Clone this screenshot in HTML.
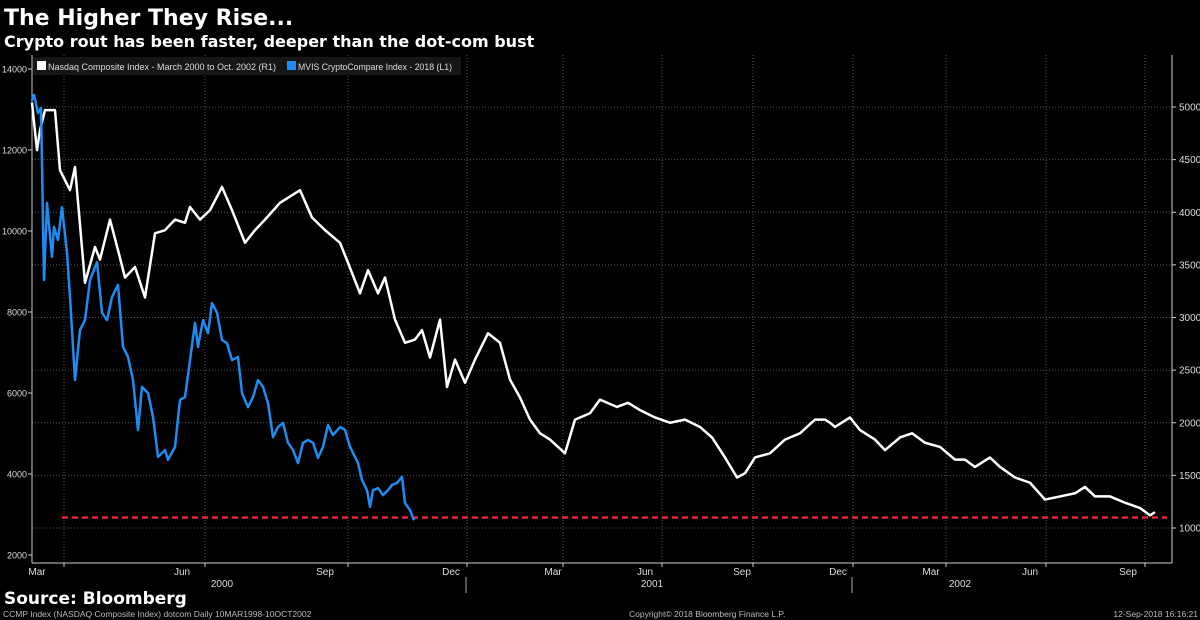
<!DOCTYPE html>
<html><head><meta charset="utf-8"><style>
body{margin:0;background:#000;width:1200px;height:620px;overflow:hidden;font-family:"Liberation Sans","DejaVu Sans",sans-serif;}
svg{display:block}
</style></head><body>
<svg id="chart" width="1200" height="620" xmlns="http://www.w3.org/2000/svg">
<text x="4" y="25" fill="#fff" font-family="DejaVu Sans" font-weight="bold" font-size="22">The Higher They Rise...</text>
<text x="4" y="47" fill="#fff" font-family="DejaVu Sans" font-weight="bold" font-size="16">Crypto rout has been faster, deeper than the dot-com bust</text>
<g id="grid"></g>
<g id="axes"></g>
<g id="series"></g>
<g>
<rect x="33" y="57" width="428" height="18" fill="#161616"/>
<rect x="37" y="61" width="9" height="9" fill="#fff"/>
<text x="48" y="70" fill="#ddd" font-size="9.5" textLength="228" lengthAdjust="spacingAndGlyphs">Nasdaq Composite Index - March 2000 to Oct. 2002 (R1)</text>
<rect x="287" y="61" width="9" height="9" fill="#1e8cf0"/>
<text x="298" y="70" fill="#ddd" font-size="9.5" textLength="154" lengthAdjust="spacingAndGlyphs">MVIS CryptoCompare Index - 2018 (L1)</text>
</g>
<text x="4" y="604" fill="#fff" font-family="DejaVu Sans" font-weight="bold" font-size="17">Source: Bloomberg</text>
<text x="3" y="617" fill="#bbb" font-size="8.5">CCMP Index (NASDAQ Composite Index) dotcom  Daily 10MAR1998-10OCT2002</text>
<text x="629" y="617" fill="#bbb" font-size="8.5">Copyright© 2018 Bloomberg Finance L.P.</text>
<text x="1198" y="617" fill="#bbb" font-size="8.5" text-anchor="end">12-Sep-2018 16:16:21</text>
</svg>
<script>
const nasdaqT=[0,5,8,13,23,28,38,43,53,63,68,78,86,93,103,113,123,133,143,153,158,168,178,190,200,213,223,233,248,268,280,293,308,316,328,336,346,353,363,373,383,390,398,408,415,423,433,443,456,468,478,488,498,508,518,533,543,558,568,585,596,608,623,638,653,668,680,693,705,713,723,738,753,768,783,793,798,803,818,828,843,853,868,880,893,908,923,933,943,958,968,983,998,1013,1028,1043,1053,1063,1078,1093,1108,1118,1123];
const nasdaqV=[5040,4590,4780,4970,4970,4400,4210,4430,3330,3670,3550,3930,3640,3380,3480,3190,3800,3830,3930,3900,4050,3930,4020,4240,4020,3710,3830,3930,4090,4210,3950,3830,3710,3520,3230,3450,3230,3380,2980,2760,2790,2880,2620,2980,2340,2600,2380,2600,2850,2760,2410,2240,2030,1900,1840,1710,2030,2090,2220,2150,2190,2120,2050,2000,2030,1960,1860,1670,1480,1520,1670,1710,1840,1900,2030,2030,2000,1960,2050,1930,1840,1740,1860,1900,1810,1770,1650,1650,1580,1670,1580,1480,1430,1270,1300,1330,1390,1300,1300,1240,1190,1120,1150];
const cryptoT=[0,2,6,9,12,15,20,22,26,30,35,38,43,48,53,58,65,70,75,80,86,91,96,101,106,110,116,121,126,133,136,143,148,153,158,163,166,171,176,180,185,190,195,200,206,210,216,221,226,231,236,241,246,251,256,261,266,271,276,281,286,291,296,301,308,313,318,326,330,335,338,341,346,351,356,360,365,370,373,378,382];
const cryptoV=[13230,13360,12910,13040,8790,10690,9360,10100,9780,10590,9460,8370,6320,7560,7800,8790,9230,7980,7800,8370,8670,7140,6890,6320,5090,6150,6000,5410,4420,4590,4350,4670,5830,5900,6810,7730,7140,7800,7480,8220,7980,7310,7230,6810,6890,6000,5650,5900,6320,6150,5750,4910,5160,5260,4770,4590,4270,4770,4840,4770,4400,4670,5210,4960,5160,5090,4670,4270,3850,3600,3190,3600,3650,3480,3600,3730,3780,3930,3280,3110,2860];
const leftTicks=[2000,4000,6000,8000,10000,12000,14000];
const rightTicks=[1000,1500,2000,2500,3000,3500,4000,4500,5000];
const monthLabels=["Mar","Jun","Sep","Dec","Mar","Jun","Sep","Dec","Mar","Jun","Sep"];
const monthT=[5,150,293,419,521,613,710,806,899,998,1096];
const gridT=[32,173,316,435,531,630,721,821,914,1014,1113];
const yearLabels=["2000","2001","2002"];
const yearT=[190,620,928];
const yearSepT=[434,820];
const supportLevel=1100;

const X0=32,X1=1172,T1=1140,YT=55,YB=563;
const x=t=>X0+t*(X1-X0)/T1;
const yR=v=>107+(5000-v)*421/4000;
const yL=v=>69+(14000-v)*81/2000;
const NS="http://www.w3.org/2000/svg";
function mk(tag,attrs,parent,txt){const e=document.createElementNS(NS,tag);for(const k in attrs)e.setAttribute(k,attrs[k]);if(txt!==undefined)e.textContent=txt;parent.appendChild(e);return e;}
const grid=document.getElementById('grid'),axes=document.getElementById('axes'),series=document.getElementById('series');

rightTicks.forEach(v=>{
  const g=mk('line',{x1:X0,x2:X1,y1:yR(v),y2:yR(v),stroke:'#555','stroke-width':1,'stroke-dasharray':'1 2'},grid);
  
  
  mk('line',{x1:X1,x2:X1+4,y1:yR(v),y2:yR(v),stroke:'#ccc'},axes);
  const t=mk('text',{x:X1+7,y:yR(v)+3.5,fill:'#ddd','font-size':10},axes,String(v));
  
  
});
gridT.forEach(t=>{
  const g=mk('line',{x1:x(t),x2:x(t),y1:YT,y2:YB,stroke:'#555','stroke-width':1,'stroke-dasharray':'1 2'},grid);
  
  
  mk('line',{x1:x(t),x2:x(t),y1:YB,y2:YB+4,stroke:'#ccc'},axes);
});
leftTicks.forEach(v=>{
  mk('line',{x1:X0-4,x2:X0,y1:yL(v),y2:yL(v),stroke:'#ccc'},axes);
  const t=mk('text',{x:X0-5,y:yL(v)+3.5,fill:'#ddd','font-size':9,'text-anchor':'end'},axes,String(v));
  
  
});
monthLabels.forEach((m,i)=>{
  const t=mk('text',{x:x(monthT[i]),y:YB+12,fill:'#ddd','font-size':10,'text-anchor':'middle'},axes,m);
  
  
});
yearLabels.forEach((m,i)=>{
  const t=mk('text',{x:x(yearT[i]),y:YB+24,fill:'#ddd','font-size':10,'text-anchor':'middle'},axes,m);
  
  
});
yearSepT.forEach(t=>{mk('line',{x1:x(t),x2:x(t),y1:YB+14,y2:YB+30,stroke:'#aaa'},axes);});
mk('line',{x1:X0,x2:X0,y1:YT,y2:YB,stroke:'#ccc'},axes);
mk('line',{x1:X1,x2:X1,y1:YT,y2:YB,stroke:'#ccc'},axes);
mk('line',{x1:X0,x2:X1,y1:YB,y2:YB,stroke:'#ccc'},axes);

const sl=mk('line',{x1:x(30),x2:x(1135),y1:yR(supportLevel),y2:yR(supportLevel),stroke:'#e8253a','stroke-width':2.5,'stroke-dasharray':'6 4'},series);


const pn=mk('polyline',{points:nasdaqT.map((t,i)=>x(t)+','+yR(nasdaqV[i])).join(' '),fill:'none',stroke:'#fff','stroke-width':2.5,'stroke-linejoin':'round'},series);


const pc=mk('polyline',{points:cryptoT.map((t,i)=>x(t)+','+yL(cryptoV[i])).join(' '),fill:'none',stroke:'#1e8cf0','stroke-width':2.5,'stroke-linejoin':'round'},series);


</script>
</body></html>
